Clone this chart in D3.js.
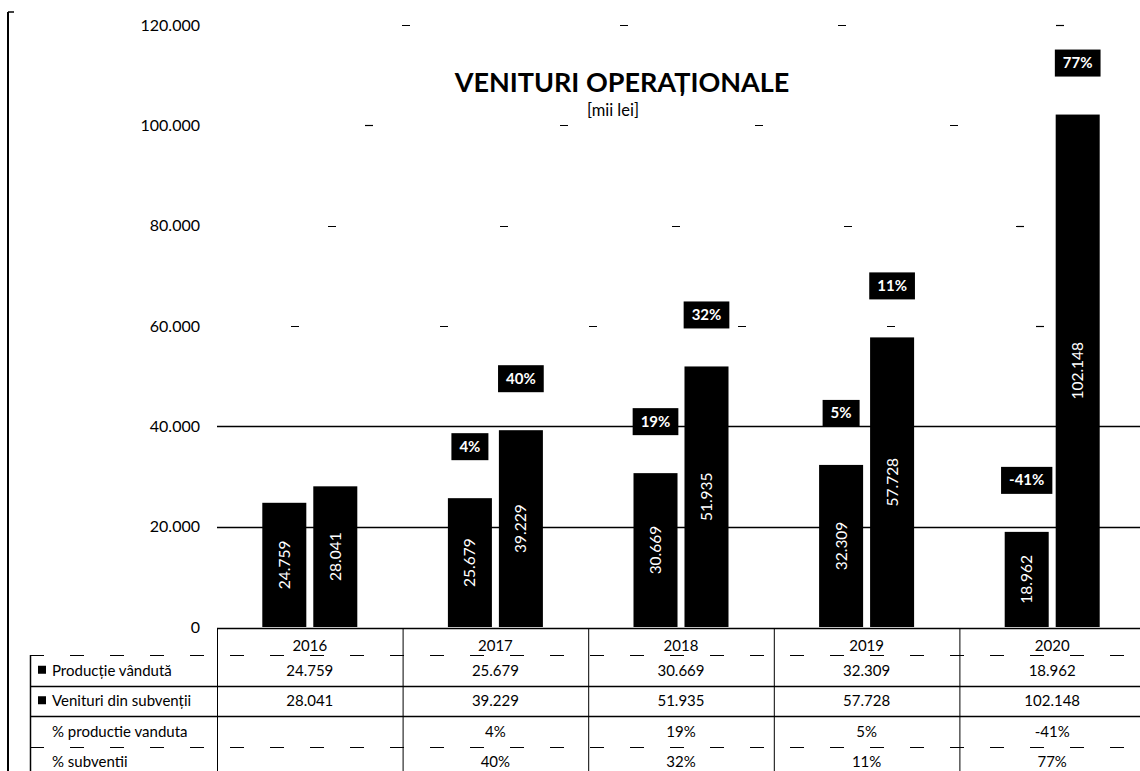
<!DOCTYPE html>
<html>
<head>
<meta charset="utf-8">
<script src="https://cdn.jsdelivr.net/npm/d3@7"></script>
<style>
  html, body { margin: 0; padding: 0; background: #fff; }
  svg { display: block; font-family: Lato, "Open Sans", sans-serif; }
</style>
</head>
<body>
<svg id="chart" width="1140" height="771"></svg>
<script>
// ---------- data ----------
const years = ["2016", "2017", "2018", "2019", "2020"];
const productieVanduta = [24759, 25679, 30669, 32309, 18962];
const venituriSubventii = [28041, 39229, 51935, 57728, 102148];
const pctProductie = [null, 4, 19, 5, -41];
const pctSubventii = [null, 40, 32, 11, 77];
const seriesNames = ["Producție vândută", "Venituri din subvenții"];
const pctRowNames = ["% productie vanduta", "% subventii"];
const yTicks = [0, 20000, 40000, 60000, 80000, 100000, 120000];
const title = "VENITURI OPERAȚIONALE";
const subtitle = "[mii lei]";

// ---------- setup ----------
const svg = d3.select("#chart");
const ro = d3.formatLocale({ decimal: ",", thousands: ".", grouping: [3], currency: ["", " lei"] });
const fmt = ro.format(",d");

const plotLeft = 217, plotRight = 1145, plotTop = 25, plotBottom = 627;
const x = d3.scaleBand().domain(years).range([plotLeft, plotRight]).paddingInner(0).paddingOuter(0);
const y = d3.scaleLinear().domain([0, 120000]).range([plotBottom, plotTop]);
const barW = 41, barGap = 13;
const groupW = barW * 2 + barGap;
const inner = d3.scaleBand().domain([0, 1]).range([0, groupW]).paddingInner(barGap / groupW);

// ---------- chart border ----------
svg.append("line").attr("x1", 8).attr("x2", 8).attr("y1", 12).attr("y2", 771)
  .attr("stroke", "#000").attr("stroke-width", 2);
svg.append("line").attr("x1", 8).attr("x2", 14).attr("y1", 12).attr("y2", 12)
  .attr("stroke", "#000").attr("stroke-width", 1.5);

// ---------- gridlines ----------
const grid = svg.append("g");
yTicks.filter(t => t > 0).forEach((t, i) => {
  const strong = t <= 40000;
  grid.append("line")
    .attr("x1", plotLeft).attr("x2", 1140)
    .attr("y1", Math.round(y(t)) + 0.5).attr("y2", Math.round(y(t)) + 0.5)
    .attr("stroke", "#000")
    .attr("stroke-width", strong ? 1.3 : 1.2)
    .attr("stroke-dasharray", strong ? null : "8 " + (95 + i * 23))
    .attr("stroke-dashoffset", strong ? null : -(i * 37));
});

// ---------- y axis labels ----------
const yAxis = d3.axisLeft(y).tickValues(yTicks).tickSize(0).tickPadding(0)
  .tickFormat(d => d === 0 ? "0" : fmt(d));
const yg = svg.append("g").attr("transform", `translate(200,0)`).call(yAxis);
yg.select(".domain").remove();
yg.selectAll("text").attr("font-size", 16).attr("fill", "#000")
  .attr("font-family", "Lato, sans-serif");

// ---------- bars ----------
const seriesVals = [productieVanduta, venituriSubventii];
const pctVals = [pctProductie, pctSubventii];
const bars = svg.append("g");
seriesVals.forEach((vals, s) => {
  years.forEach((yr, i) => {
    const cx = x(yr) + (x.bandwidth() - groupW) / 2 + inner(s);
    const v = vals[i];
    bars.append("rect")
      .attr("x", cx).attr("y", y(v))
      .attr("width", inner.bandwidth()).attr("height", y(0) - y(v))
      .attr("fill", "#000");
    const mx = cx + inner.bandwidth() / 2;
    const my = (y(v) + y(0)) / 2;
    bars.append("text")
      .attr("transform", `translate(${mx + 5.5},${my}) rotate(-90)`)
      .attr("text-anchor", "middle")
      .attr("font-size", 15.5)
      .attr("fill", "#fff")
      .text(fmt(v));
    // percentage box
    const p = pctVals[s][i];
    if (p !== null) {
      const by = y(v) - 52;
      const g = bars.append("g");
      const t = g.append("text")
        .attr("x", mx).attr("y", by + 5.5)
        .attr("text-anchor", "middle")
        .attr("font-size", 15).attr("font-weight", "bold")
        .attr("fill", "#fff")
        .text(p + "%");
      const w = t.node().getComputedTextLength() + 16;
      g.insert("rect", "text")
        .attr("x", mx - w / 2).attr("y", by - 13)
        .attr("width", w).attr("height", 27)
        .attr("fill", "#000");
    }
  });
});

// ---------- baseline ----------
svg.append("line").attr("x1", plotLeft).attr("x2", 1140)
  .attr("y1", 628.5).attr("y2", 628.5).attr("stroke", "#000").attr("stroke-width", 1.5);

// ---------- title ----------
svg.append("text").attr("x", 622).attr("y", 92).attr("text-anchor", "middle")
  .attr("font-size", 27).attr("font-weight", "bold").attr("fill", "#000").text(title);
svg.append("text").attr("x", 613).attr("y", 116).attr("text-anchor", "middle")
  .attr("font-size", 16.5).attr("fill", "#000").text(subtitle);

// ---------- data table ----------
const table = svg.append("g");
const tabLeft = 30, rowTop = 655, rowH = 30.5;
const rowsY = [0, 1, 2, 3].map(r => rowTop + r * rowH);

// horizontal lines
[[rowTop, true], [rowTop + rowH, false], [rowTop + 2 * rowH, false], [rowTop + 3 * rowH, true]].forEach(([yy, dashed]) => {
  table.append("line").attr("x1", tabLeft).attr("x2", 1140)
    .attr("y1", Math.round(yy) + 0.5).attr("y2", Math.round(yy) + 0.5)
    .attr("stroke", "#000").attr("stroke-width", dashed ? 1.2 : 1.5)
    .attr("stroke-dasharray", dashed ? "14 26" : null);
});
// vertical lines
years.forEach(yr => {
  table.append("line").attr("x1", x(yr) + 0.5).attr("x2", x(yr) + 0.5)
    .attr("y1", 629).attr("y2", 771).attr("stroke", "#000").attr("stroke-width", 1);
});
table.append("line").attr("x1", tabLeft + 0.5).attr("x2", tabLeft + 0.5)
  .attr("y1", rowTop).attr("y2", 771).attr("stroke", "#000").attr("stroke-width", 1.5);

// year header
years.forEach(yr => {
  table.append("text").attr("x", x(yr) + x.bandwidth() / 2).attr("y", 651)
    .attr("text-anchor", "middle").attr("font-size", 15).attr("fill", "#000").text(yr);
});

const rowLabels = [seriesNames[0], seriesNames[1], pctRowNames[0], pctRowNames[1]];
const rowVals = [
  productieVanduta.map(fmt),
  venituriSubventii.map(fmt),
  pctProductie.map(p => p === null ? "" : p + "%"),
  pctSubventii.map(p => p === null ? "" : p + "%")
];
rowLabels.forEach((lab, r) => {
  const cy = rowsY[r] + rowH / 2;
  if (r < 2) {
    table.append("rect").attr("x", 38).attr("y", cy - 4.5).attr("width", 8).attr("height", 8).attr("fill", "#000");
  }
  table.append("text").attr("x", 52).attr("y", cy + 5.5)
    .attr("font-size", 15).attr("fill", "#000").text(lab);
  rowVals[r].forEach((v, i) => {
    table.append("text").attr("x", x(years[i]) + x.bandwidth() / 2).attr("y", cy + 5.5)
      .attr("text-anchor", "middle").attr("font-size", 15).attr("fill", "#000").text(v);
  });
});
</script>
</body>
</html>
